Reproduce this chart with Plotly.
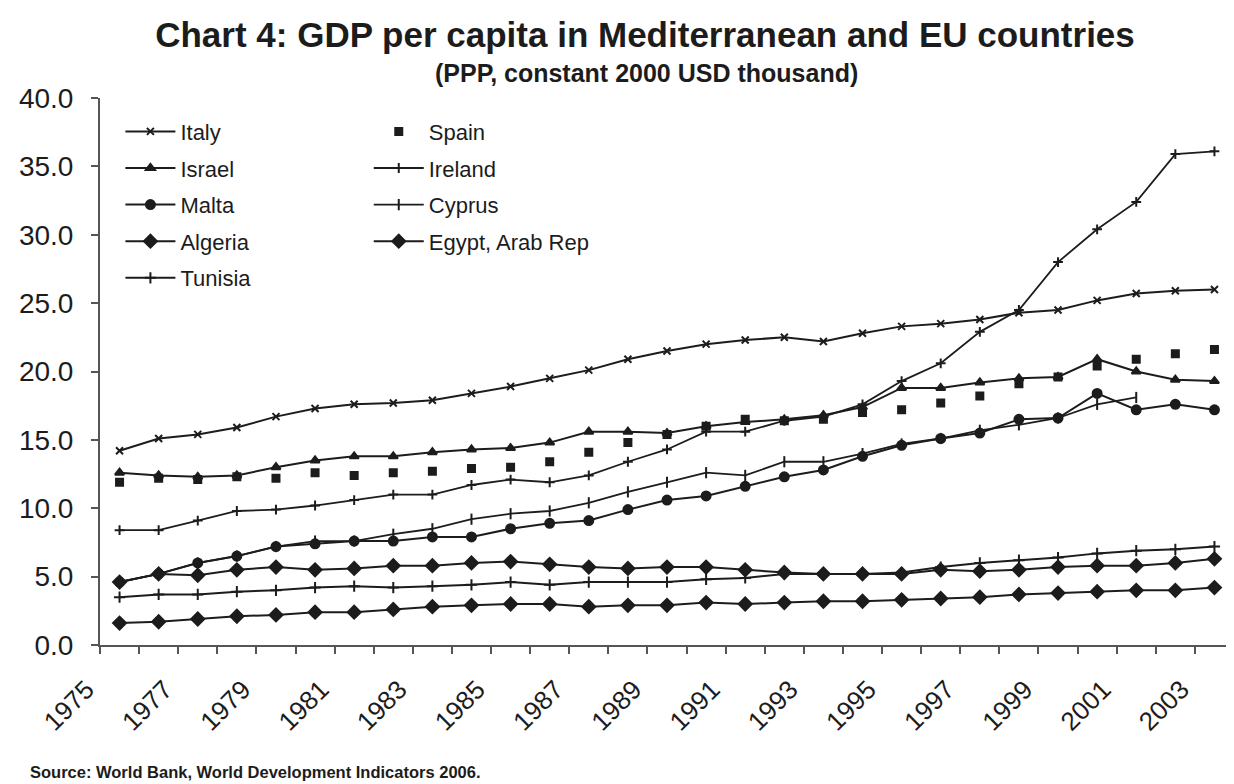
import plotly.graph_objects as go

years = list(range(1975, 2004))

italy = [14.2, 15.1, 15.4, 15.9, 16.7, 17.3, 17.6, 17.7, 17.9, 18.4, 18.9, 19.5, 20.1, 20.9, 21.5,
         22.0, 22.3, 22.5, 22.2, 22.8, 23.3, 23.5, 23.8, 24.3, 24.5, 25.2, 25.7, 25.9, 26.0]
spain = [11.9, 12.2, 12.1, 12.3, 12.2, 12.6, 12.4, 12.6, 12.7, 12.9, 13.0, 13.4, 14.1, 14.8, 15.4,
         16.0, 16.5, 16.4, 16.5, 17.0, 17.2, 17.7, 18.2, 19.1, 19.6, 20.4, 20.9, 21.3, 21.6]
israel = [12.6, 12.4, 12.3, 12.4, 13.0, 13.5, 13.8, 13.8, 14.1, 14.3, 14.4, 14.8, 15.6, 15.6, 15.5,
          16.0, 16.3, 16.5, 16.8, 17.4, 18.8, 18.8, 19.2, 19.5, 19.6, 20.9, 20.0, 19.4, 19.3]
ireland = [8.4, 8.4, 9.1, 9.8, 9.9, 10.2, 10.6, 11.0, 11.0, 11.7, 12.1, 11.9, 12.4, 13.4, 14.3,
           15.6, 15.6, 16.4, 16.7, 17.6, 19.3, 20.6, 22.9, 24.5, 28.0, 30.4, 32.4, 35.9, 36.1]
malta = [4.6, 5.2, 6.0, 6.5, 7.2, 7.4, 7.6, 7.6, 7.9, 7.9, 8.5, 8.9, 9.1, 9.9, 10.6,
         10.9, 11.6, 12.3, 12.8, 13.8, 14.6, 15.1, 15.5, 16.5, 16.6, 18.4, 17.2, 17.6, 17.2]
cyprus = [4.6, 5.2, 6.0, 6.5, 7.2, 7.6, 7.6, 8.1, 8.5, 9.2, 9.6, 9.8, 10.4, 11.2, 11.9,
          12.6, 12.4, 13.4, 13.4, 14.0, 14.7, 15.1, 15.7, 16.1, 16.6, 17.6, 18.1, None, None]
algeria = [4.6, 5.2, 5.1, 5.5, 5.7, 5.5, 5.6, 5.8, 5.8, 6.0, 6.1, 5.9, 5.7, 5.6, 5.7,
           5.7, 5.5, 5.3, 5.2, 5.2, 5.2, 5.5, 5.4, 5.5, 5.7, 5.8, 5.8, 6.0, 6.3]
egypt = [1.6, 1.7, 1.9, 2.1, 2.2, 2.4, 2.4, 2.6, 2.8, 2.9, 3.0, 3.0, 2.8, 2.9, 2.9,
         3.1, 3.0, 3.1, 3.2, 3.2, 3.3, 3.4, 3.5, 3.7, 3.8, 3.9, 4.0, 4.0, 4.2]
tunisia = [3.5, 3.7, 3.7, 3.9, 4.0, 4.2, 4.3, 4.2, 4.3, 4.4, 4.6, 4.4, 4.6, 4.6, 4.6,
           4.8, 4.9, 5.2, 5.2, 5.2, 5.3, 5.7, 6.0, 6.2, 6.4, 6.7, 6.9, 7.0, 7.2]

tick_years = list(range(1975, 2004, 2))
tick_labels = [str(y) for y in tick_years]
y_ticks = [0, 5, 10, 15, 20, 25, 30, 35, 40]

INK = "#1c1c1c"
FONT = "Liberation Sans, Arial, sans-serif"

series = [
    ("Italy", italy, "x-thin-open", 7, "legend", "lines+markers", 2),
    ("Spain", spain, "square", 7, "legend2", "markers", 2),
    ("Israel", israel, "triangle-up", 8, "legend", "lines+markers", 2),
    ("Ireland", ireland, "cross-thin-open", 7, "legend2", "lines+markers", 1.8),
    ("Malta", malta, "circle", 9, "legend", "lines+markers", 2),
    ("Cyprus", cyprus, "line-ns-open", 8, "legend2", "lines+markers", 1.8),
    ("Algeria", algeria, "diamond", 10, "legend", "lines+markers", 2),
    ("Egypt, Arab Rep", egypt, "diamond", 10, "legend2", "lines+markers", 2),
    ("Tunisia", tunisia, "cross-thin-open", 8, "legend", "lines+markers", 2),
]

fig = go.Figure()
for name, vals, sym, size, leg, mode, w in series:
    fig.add_trace(go.Scatter(
        x=years, y=vals, name=name, mode=mode, legend=leg, legendgroup=name,
        line=dict(color=INK, width=w),
        marker=dict(symbol=sym, size=size, color=INK, line=dict(color=INK, width=2)),
        connectgaps=False,
    ))

# the page body adds an 8px offset; the figure is sized/margined to compensate
W, H = 1226, 776
fig.update_layout(
    width=W, height=H,
    margin=dict(l=92, r=0, t=90, b=139),
    paper_bgcolor="white", plot_bgcolor="white",
    font=dict(family=FONT, color=INK),
    title=dict(
        text="<b>Chart 4: GDP per capita in Mediterranean and EU countries</b>",
        x=637 / W, xanchor="center", y=1 - 27 / H, yanchor="middle",
        font=dict(size=35, family=FONT, color=INK),
    ),
    legend=dict(
        x=0.018, xanchor="left", y=0.977, yanchor="top",
        font=dict(size=22, family=FONT, color=INK),
        itemwidth=50, tracegroupgap=5, bgcolor="rgba(0,0,0,0)",
    ),
    legend2=dict(
        x=0.237, xanchor="left", y=0.977, yanchor="top",
        font=dict(size=22, family=FONT, color=INK),
        itemwidth=50, tracegroupgap=5, bgcolor="rgba(0,0,0,0)",
    ),
    xaxis=dict(
        range=[1974.5, 2003.5], tickmode="array", tickvals=tick_years, ticktext=tick_labels,
        tickangle=-45, ticks="", showgrid=False, zeroline=False, automargin=False,
        showline=True, linecolor="#555", linewidth=2,
        tickfont=dict(size=26, family=FONT, color=INK),
        ticklabelshift=-33, ticklabelstandoff=17,
        minor=dict(tickmode="array", tickvals=[y - 0.5 for y in years] + [2003.5],
                   ticks="outside", ticklen=7, tickcolor="#555", tickwidth=1.5, showgrid=False),
    ),
    yaxis=dict(
        range=[0, 40], tickmode="array", tickvals=y_ticks, tickformat=".1f",
        ticks="outside", ticklen=7, tickcolor="#555", tickwidth=1.5, automargin=False,
        showgrid=False, zeroline=False, showline=True, linecolor="#555", linewidth=2,
        tickfont=dict(size=28, family=FONT, color=INK), ticklabelstandoff=12,
    ),
    annotations=[
        dict(
            text="<b>(PPP, constant 2000 USD thousand)</b>",
            xref="paper", yref="paper", x=(646 - 100) / 1134, y=(645 - 73) / 547,
            xanchor="center", yanchor="middle", showarrow=False,
            font=dict(size=25, family=FONT, color=INK),
        ),
        dict(
            text="<b>Source: World Bank, World Development Indicators 2006.</b>",
            xref="paper", yref="paper", x=(28 - 100) / 1134, y=(645 - 772) / 547,
            xanchor="left", yanchor="middle", showarrow=False,
            font=dict(size=16.5, family=FONT, color=INK),
        ),
    ],
)

fig.write_html("out.html")
